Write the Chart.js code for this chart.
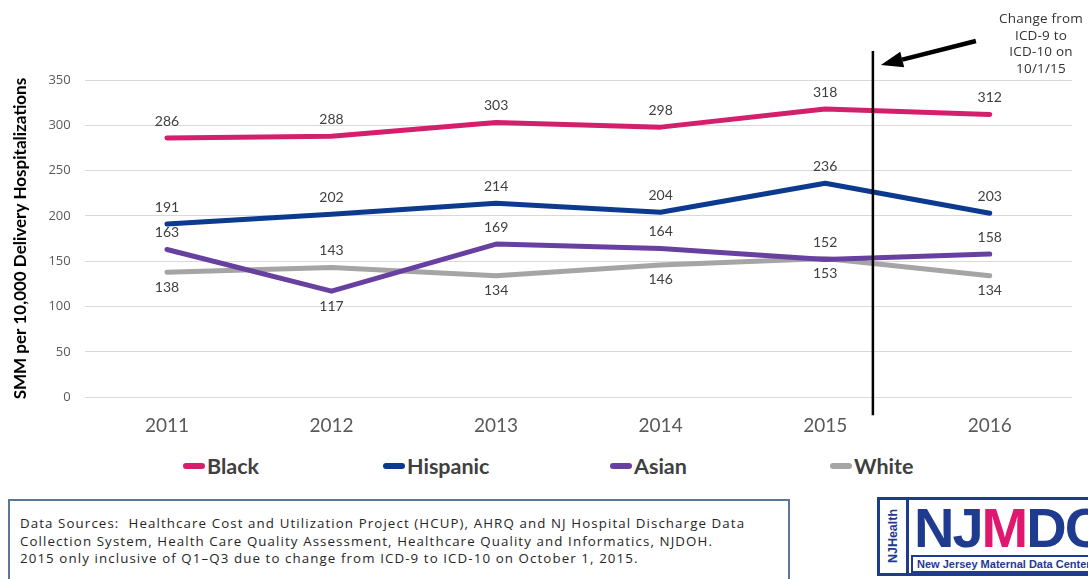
<!DOCTYPE html>
<html>
<head>
<meta charset="utf-8">
<script src="https://cdn.jsdelivr.net/npm/chart.js@4.4.1/dist/chart.umd.min.js"></script>
<style>
  html, body { margin:0; padding:0; background:#fff; }
  body { width:1088px; height:579px; position:relative; overflow:hidden; font-family:"Lato", sans-serif; }
  #wrap { position:absolute; left:0; top:0; width:1088px; height:450px; }
  #note { position:absolute; left:981px; top:10px; width:120px; text-align:center; font-family:"Open Sans", sans-serif; font-size:13.5px; line-height:16.5px; color:#333; letter-spacing:0.2px; }
  #legend { position:absolute; left:0; top:452px; width:1088px; height:28px; }
  #legend .it { position:absolute; top:0; height:28px; display:flex; align-items:center; font-family:"Lato", sans-serif; font-weight:bold; font-size:21.5px; color:#404040; }
  #legend .sw { display:inline-block; width:22px; height:6px; border-radius:3px; margin-right:2px; }
  #footer { position:absolute; left:8px; top:499px; width:782px; height:84px; border:2px solid #5b7795; box-sizing:border-box; padding:14px 0 0 10px; font-family:"Open Sans", sans-serif; font-size:13.3px; line-height:17.5px; letter-spacing:1.1px; color:#262626; white-space:nowrap; }
  #logo { position:absolute; left:877px; top:497px; width:220px; height:79px; border:3px solid #1f3b8f; box-sizing:border-box; }
  #logo .side { position:absolute; left:0; top:0; width:26px; height:73px; border-right:3px solid #1f3b8f; }
  #logo .side span { position:absolute; left:13px; top:36px; transform:translate(-50%,-50%) rotate(-90deg); font-family:"Liberation Sans", sans-serif; font-weight:bold; font-size:12.5px; color:#1f3b8f; white-space:nowrap; }
  #logo .big { position:absolute; left:34px; top:-5px; font-family:"Liberation Sans", sans-serif; font-weight:bold; font-size:56px; letter-spacing:-2px; color:#1f3b8f; }
  #logo .big b { color:#e0176f; }
  #logo .small { position:absolute; left:31px; top:55px; width:190px; height:18px; border:2px solid #1f3b8f; box-sizing:border-box; font-family:"Liberation Sans", sans-serif; font-weight:bold; font-size:11px; line-height:14px; color:#1f3b8f; padding-left:4px; white-space:nowrap; overflow:hidden; }
</style>
</head>
<body>
<div id="wrap"><canvas id="c"></canvas></div>
<div id="note">Change from<br>ICD-9 to<br>ICD-10 on<br>10/1/15</div>
<div id="legend"></div>
<div id="footer">Data Sources:&nbsp; Healthcare Cost and Utilization Project (HCUP), AHRQ and NJ Hospital Discharge Data<br>Collection System, Health Care Quality Assessment, Healthcare Quality and Informatics, NJDOH.<br>2015 only inclusive of Q1–Q3 due to change from ICD-9 to ICD-10 on October 1, 2015.</div>
<div id="logo">
  <div class="side"><span>NJHealth</span></div>
  <div class="big">NJ<b>M</b>DC</div>
  <div class="small">New Jersey Maternal Data Center</div>
</div>
<script>
const years = ["2011","2012","2013","2014","2015","2016"];
const seriesNames = ["Black","Hispanic","Asian","White"];
const black    = [286, 288, 303, 298, 318, 312];
const hispanic = [191, 202, 214, 204, 236, 203];
const asian    = [163, 117, 169, 164, 152, 158];
const white    = [138, 143, 134, 146, 153, 134];
const yTicks   = [0, 50, 100, 150, 200, 250, 300, 350];
const changeIndex = 4.29; // ICD-9 -> ICD-10 change marker (category units)

// label placement: 1 = above, -1 = below
const placeBlack    = [1,1,1,1,1,1];
const placeHispanic = [1,1,1,1,1,1];
const placeAsian    = [1,-1,1,1,1,1];
const placeWhite    = [-1,1,-1,-1,-1,-1];

const colors = ["#d3206d", "#0c3a8e", "#6840a0", "#a5a5a5"];
const values = [black, hispanic, asian, white];
const places = [placeBlack, placeHispanic, placeAsian, placeWhite];
const legendLeft = [183, 383, 610, 830];

const lg = document.getElementById('legend');
seriesNames.forEach((n, i) => {
  const d = document.createElement('div');
  d.className = 'it';
  d.style.left = legendLeft[i] + 'px';
  const s = document.createElement('span');
  s.className = 'sw';
  s.style.background = colors[i];
  d.appendChild(s);
  d.appendChild(document.createTextNode(n));
  lg.appendChild(d);
});

const labelPlugin = {
  id: 'dataLabels',
  afterDatasetsDraw(chart) {
    const ctx = chart.ctx;
    ctx.save();
    ctx.font = '14px Lato';
    ctx.fillStyle = '#404040';
    ctx.textAlign = 'center';
    ctx.textBaseline = 'middle';
    chart.data.datasets.forEach((ds, di) => {
      const meta = chart.getDatasetMeta(di);
      meta.data.forEach((pt, i) => {
        const p = places[di][i];
        const y = p > 0 ? pt.y - 17 : pt.y + 15;
        ctx.fillText(String(ds.data[i]), pt.x, y);
      });
    });
    ctx.restore();
  }
};

const markerPlugin = {
  id: 'marker',
  afterDatasetsDraw(chart) {
    const ctx = chart.ctx;
    const xs = chart.scales.x;
    const area = chart.chartArea;
    const x = xs.getPixelForValue(changeIndex);
    ctx.save();
    ctx.strokeStyle = '#000';
    ctx.lineWidth = 2.5;
    ctx.beginPath();
    ctx.moveTo(x, area.top - 29);
    ctx.lineTo(x, area.bottom + 18);
    ctx.stroke();
    const tipX = x + 8, tipY = area.top - 15;
    const sx = x + 103, sy = area.top - 39;
    const ang = Math.atan2(tipY - sy, tipX - sx);
    const headLen = 22, headW = 8;
    const bx = tipX - headLen * Math.cos(ang), by = tipY - headLen * Math.sin(ang);
    ctx.lineWidth = 4.5;
    ctx.beginPath();
    ctx.moveTo(sx, sy);
    ctx.lineTo(bx, by);
    ctx.stroke();
    ctx.fillStyle = '#000';
    ctx.beginPath();
    ctx.moveTo(tipX, tipY);
    ctx.lineTo(bx + headW * Math.sin(ang), by - headW * Math.cos(ang));
    ctx.lineTo(bx - headW * Math.sin(ang), by + headW * Math.cos(ang));
    ctx.closePath();
    ctx.fill();
    ctx.restore();
  }
};

new Chart(document.getElementById('c'), {
  type: 'line',
  data: {
    labels: years,
    datasets: seriesNames.map((n, i) => ({
      label: n,
      data: values[i],
      borderColor: colors[i],
      backgroundColor: colors[i],
      borderWidth: 5,
      pointRadius: 0,
      tension: 0,
      borderCapStyle: 'round',
      borderJoinStyle: 'round'
    }))
  },
  options: {
    responsive: true,
    maintainAspectRatio: false,
    animation: false,
    layout: { padding: { top: 80, right: 16, left: 6, bottom: 4 } },
    plugins: {
      tooltip: { enabled: false },
      legend: { display: false }
    },
    scales: {
      x: {
        offset: true,
        grid: { display: false },
        border: { display: false },
        ticks: { color: '#595959', font: { family: 'Lato', size: 19 }, padding: 9 }
      },
      y: {
        min: 0, max: 350,
        afterBuildTicks(axis) { axis.ticks = yTicks.map(v => ({ value: v })); },
        grid: { color: '#d9d9d9', lineWidth: 1, drawTicks: false },
        border: { display: false },
        ticks: { color: '#595959', font: { family: 'Open Sans', size: 13 }, padding: 14 },
        title: {
          display: true,
          text: 'SMM per 10,000 Delivery Hospitalizations',
          color: '#000',
          font: { family: 'Lato', size: 17, weight: 'bold' },
          padding: { bottom: 4 }
        }
      }
    }
  },
  plugins: [labelPlugin, markerPlugin]
});
</script>
</body>
</html>
